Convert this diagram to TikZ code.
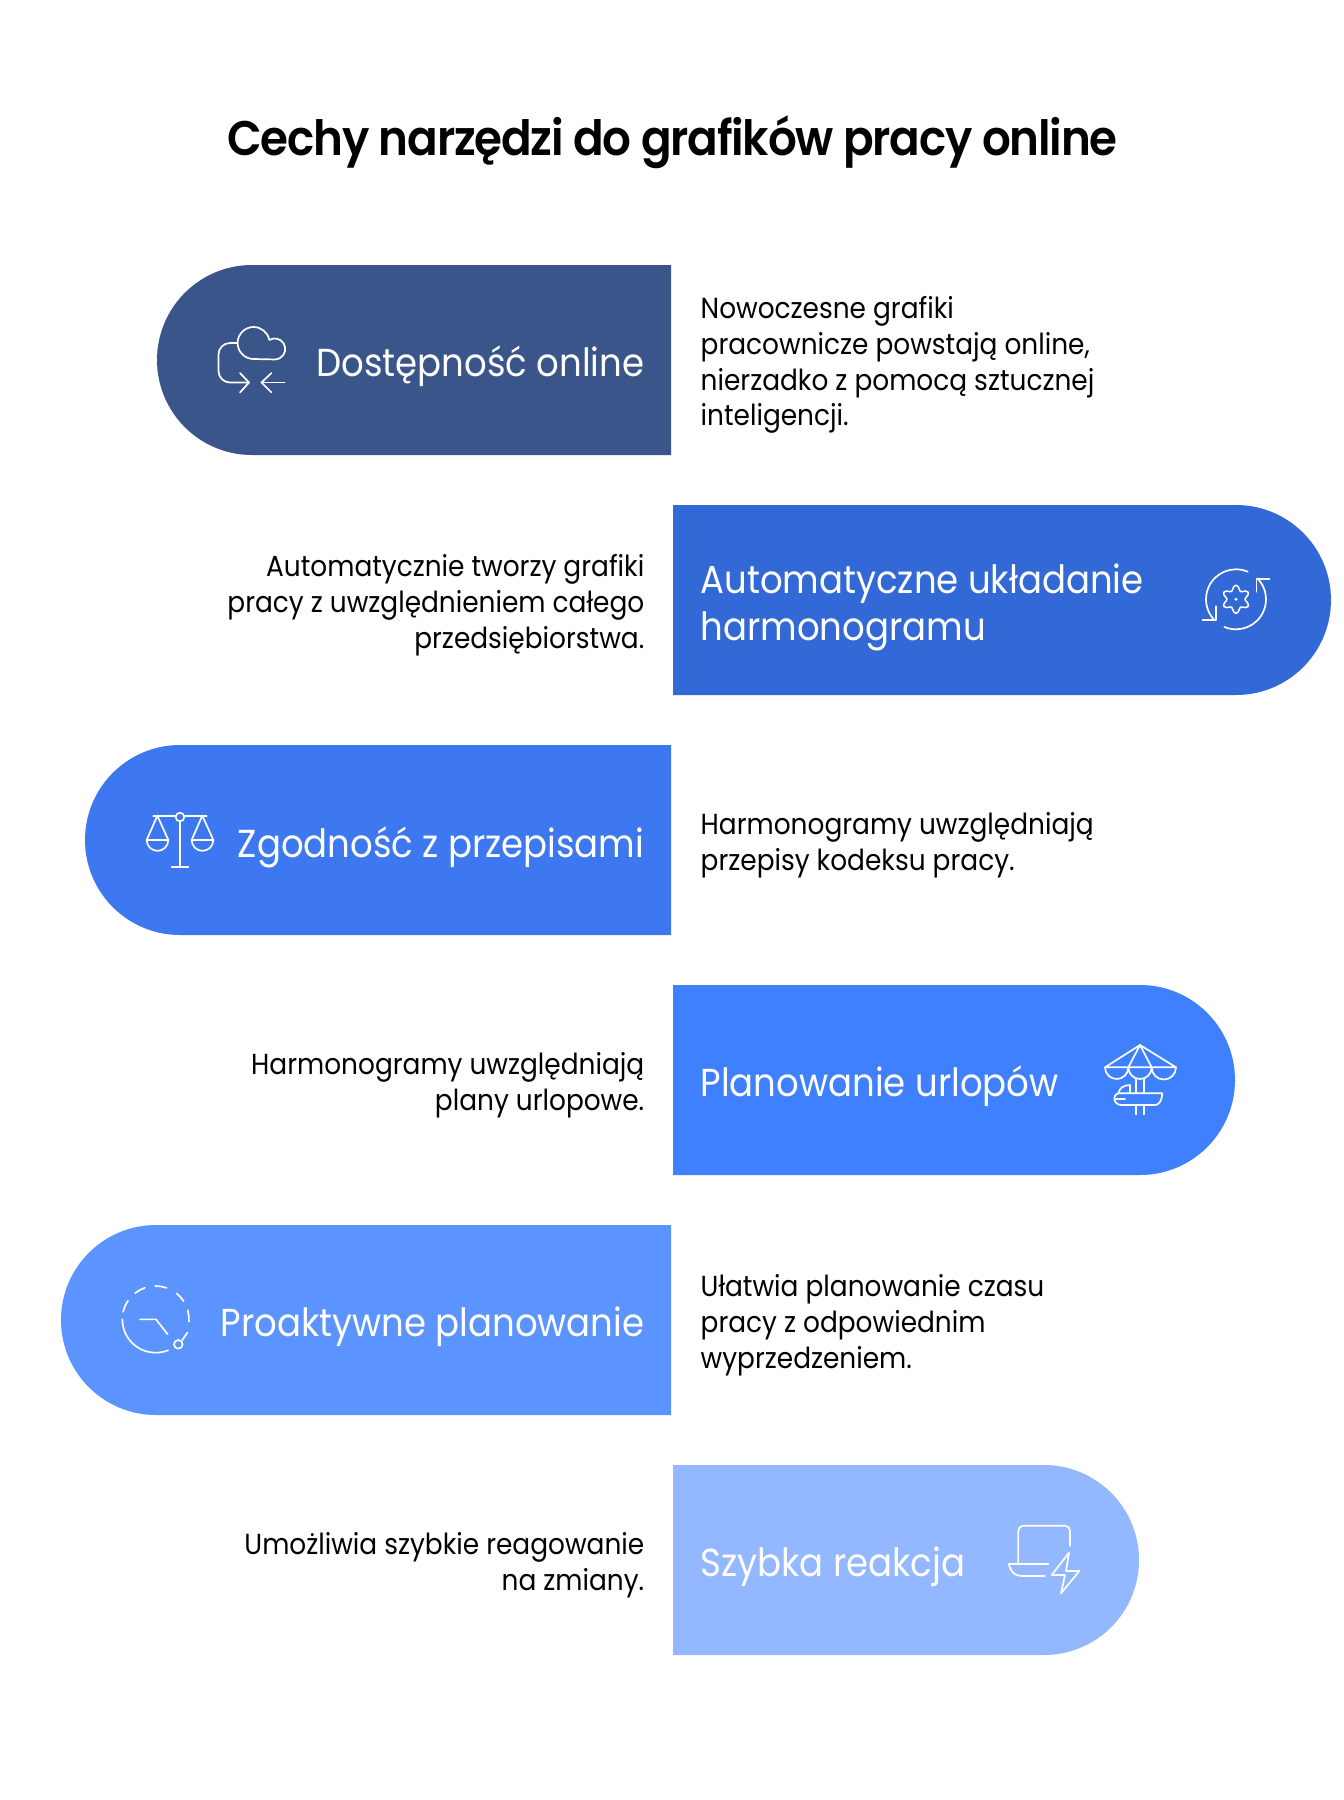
\documentclass[tikz,border=0pt]{standalone}
\usepackage{fontspec}
\setmainfont{Poppins}[FakeStretch=0.91]
\newfontfamily\headfont{Poppins SemiBold}[FakeStretch=0.93,LetterSpace=-2.5]
\definecolor{fillone}{HTML}{3A5589}
\definecolor{filltwo}{HTML}{3269D7}
\definecolor{fillthree}{HTML}{3D78F0}
\definecolor{fillfour}{HTML}{3F80FF}
\definecolor{fillfive}{HTML}{5B94FF}
\definecolor{fillsix}{HTML}{94B8FF}
\tikzset{
  lefttext/.style={anchor=east,align=right,text=white,inner sep=0pt,font=\fontsize{39}{47}\selectfont},
  righttext/.style={anchor=west,align=left,text=white,inner sep=0pt,font=\fontsize{39}{47}\selectfont},
  descleft/.style={anchor=east,align=right,text=black,inner sep=0pt,font=\fontsize{29}{35.8}\selectfont},
  descright/.style={anchor=west,align=left,text=black,inner sep=0pt,font=\fontsize{29}{35.8}\selectfont},
  iconline/.style={draw=white,line width=1.7pt,line cap=round,line join=round}
}
\begin{document}
\begin{tikzpicture}[x=1pt,y=-1pt]
  \useasboundingbox (0,0) rectangle (1344,1800);

  % Heading
  \node[anchor=center,inner sep=0pt,font=\headfont\fontsize{48.6}{56}\selectfont] (heading) at (672.5,142) {Cechy narzędzi do grafików pracy online};

  % Bands on the left
  \fill[fillone] (671,265) -- (252,265) arc[start angle=270,end angle=90,radius=95] -- (671,455) -- cycle;
  \fill[fillthree] (671,745) -- (180,745) arc[start angle=270,end angle=90,radius=95] -- (671,935) -- cycle;
  \fill[fillfive] (671,1225) -- (156,1225) arc[start angle=270,end angle=90,radius=95] -- (671,1415) -- cycle;

  % Bands on the right
  \fill[filltwo] (673,505) -- (1236,505) arc[start angle=-90,end angle=90,radius=95] -- (673,695) -- cycle;
  \fill[fillfour] (673,985) -- (1140,985) arc[start angle=-90,end angle=90,radius=95] -- (673,1175) -- cycle;
  \fill[fillsix] (673,1465) -- (1044,1465) arc[start angle=-90,end angle=90,radius=95] -- (673,1655) -- cycle;

  % Labels in the bands
  \node[lefttext] (online) at (644.5,366) {Dostępność online};
  \node[righttext] (auto) at (700.5,607) {Automatyczne układanie\\harmonogramu};
  \node[lefttext] (rules) at (644.5,847) {Zgodność z przepisami};
  \node[righttext] (leave) at (700.5,1086) {Planowanie urlopów};
  \node[lefttext] (proactive) at (644.5,1327) {Proaktywne planowanie};
  \node[righttext] (quick) at (700.5,1567) {Szybka reakcja};

  % Descriptions
  \node[descright] (onlinetext) at (700.5,365) {Nowoczesne grafiki\\pracownicze powstają online,\\nierzadko z pomocą sztucznej\\inteligencji.};
  \node[descleft] (autotext) at (644.5,605) {Automatycznie tworzy grafiki\\pracy z uwzględnieniem całego\\przedsiębiorstwa.};
  \node[descright] (rulestext) at (700.5,845) {Harmonogramy uwzględniają\\przepisy kodeksu pracy.};
  \node[descleft] (leavetext) at (644.5,1085) {Harmonogramy uwzględniają\\plany urlopowe.};
  \node[descright] (proactivetext) at (700.5,1325) {Ułatwia planowanie czasu\\pracy z odpowiednim\\wyprzedzeniem.};
  \node[descleft] (quicktext) at (644.5,1565) {Umożliwia szybkie reagowanie\\na zmiany.};

  % Cloud icon
  \draw[iconline] (237.6,343) arc[start angle=180,end angle=349,radius=16]
    arc[start angle=239,end angle=450,radius=10.5] -- (253.6,359)
    arc[start angle=90,end angle=180,radius=16];
  \draw[iconline] (237.5,343) -- (230,343) arc[start angle=270,end angle=180,radius=11.5] -- (218.5,371)
    arc[start angle=180,end angle=90,radius=11.5] -- (249,382.5);
  \draw[iconline] (240,373) -- (249,382.5) -- (240,392.5);
  \draw[iconline] (284.5,382.5) -- (261.5,382.5);
  \draw[iconline] (271.5,373) -- (261.5,382.5) -- (271.5,392.5);

  % Gear icon
  \begin{scope}[shift={(1236,599.3)}]
    \draw[iconline] (-67:30) arc[start angle=-67,end angle=-223.5,radius=30];
    \draw[iconline] (113:30) arc[start angle=113,end angle=-44,radius=30];
    \draw[iconline] (-20,7) -- (-20,20.5) -- (-33.5,20.5);
    \draw[iconline] (20.5,-7.5) -- (20.5,-20) -- (33.5,-20);
    \draw[iconline,line width=1.5pt] plot[smooth cycle,samples=36,domain=0:350] (\x:{11.5-2.6*cos(6*\x)});
    \fill[white] (0,0) circle (1.6);
  \end{scope}

  % Scales icon
  \begin{scope}[shift={(130,790)},scale=1/3]
    \draw[iconline] (70,77) -- (137,77) (163,77) -- (230,77);
    \draw[iconline] (150,81) circle (13);
    \draw[iconline] (150,94) -- (150,230) (125,230) -- (175,230);
    \draw[iconline] (50,150) -- (82,77) -- (115,150) -- cycle;
    \draw[iconline] (50,150) arc[start angle=180,end angle=0,radius=32.5];
    \draw[iconline] (185,150) -- (217,77) -- (250,150) -- cycle;
    \draw[iconline] (185,150) arc[start angle=180,end angle=0,radius=32.5];
  \end{scope}

  % Umbrella icon
  \begin{scope}[shift={(1080,1025)},scale=1/3]
    \draw[iconline] (75,127) -- (180,60) -- (288,127) -- cycle;
    \draw[iconline] (145,127) -- (180,60) -- (215,127);
    \draw[iconline] (75,127) arc[start angle=180,end angle=0,radius=35];
    \draw[iconline] (145,127) arc[start angle=180,end angle=0,radius=35];
    \draw[iconline] (215,127) arc[start angle=180,end angle=0,radius=36.5];
    \draw[iconline] (167,160) -- (167,205) (192,160) -- (192,205);
    \draw[iconline] (167,240) -- (167,268) (192,240) -- (192,268);
    \draw[iconline] (115,205) .. controls (118,190) and (130,180) .. (150,180) -- (150,205);
    \draw[iconline] (247,205) -- (115,205) .. controls (105,208) and (102,215) .. (103,222)
      .. controls (104,233) and (113,240) .. (125,240) -- (225,240) .. controls (238,240) and (246,225) .. (247,205);
    \draw[iconline] (105,222) -- (135,222);
  \end{scope}

  % Clock icon
  \begin{scope}[shift={(105,1265)},scale=1/3]
    \begin{scope}[shift={(152,163)}]
      \draw[iconline] (-128:100) arc[start angle=-128,end angle=-109,radius=100];
      \draw[iconline] (-91:100) arc[start angle=-91,end angle=-71,radius=100];
      \draw[iconline] (-51:100) arc[start angle=-51,end angle=-33,radius=100];
      \draw[iconline] (-16:100) arc[start angle=-16,end angle=4,radius=100];
      \draw[iconline] (-167:100) arc[start angle=-167,end angle=-146,radius=100];
      \draw[iconline] (180:100) arc[start angle=180,end angle=68,radius=100];
    \end{scope}
    \draw[iconline] (220,238) circle (13);
    \draw[iconline] (232,225) -- (247,203);
    \draw[iconline] (105,163) -- (153,163) -- (188,208);
  \end{scope}

  % Laptop icon
  \begin{scope}[shift={(990,1505)},scale=1/3]
    \draw[iconline] (85,175) -- (85,77) arc[start angle=180,end angle=270,radius=15] -- (225,62)
      arc[start angle=270,end angle=360,radius=15] -- (240,122);
    \draw[iconline] (57,177) -- (175,177);
    \draw[iconline] (57,177) .. controls (60,200) and (75,213) .. (95,213) -- (165,213);
    \draw[iconline] (237,143) -- (185,210) -- (225,210) -- (213,265) -- (268,198) -- (228,198) -- cycle;
  \end{scope}
\end{tikzpicture}
\end{document}
